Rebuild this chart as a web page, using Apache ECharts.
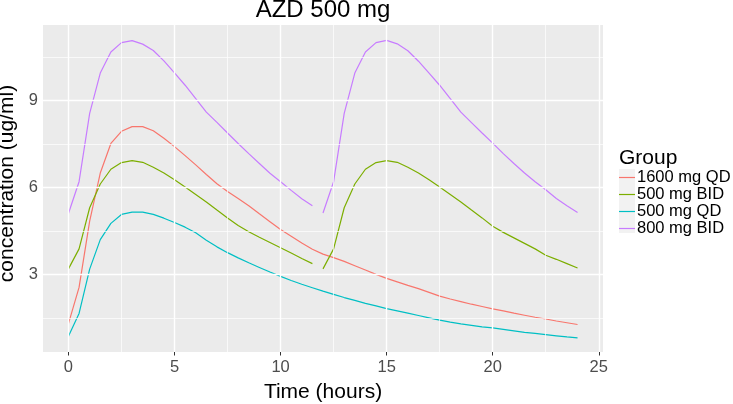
<!DOCTYPE html>
<html><head><meta charset="utf-8">
<script src="https://cdn.jsdelivr.net/npm/echarts@6/dist/echarts.min.js"></script>
<style>html,body{margin:0;padding:0;background:#fff}#c{width:733px;height:404px}</style>
</head><body><div id="c"></div>
<script>
// time grid (hours)
const hours = [0,0.5,1,1.5,2,2.5,3,3.5,4,4.5,5,5.5,6,6.5,7,7.5,8,8.5,9,9.5,10,10.5,11,11.5,
  12,12.5,13,13.5,14,14.5,15,15.5,16,16.5,17,17.5,18,18.5,19,19.5,20,20.5,21,21.5,22,22.5,23,23.5,24];
// concentrations (ug/ml)
const qd1600 = [1.3,2.55,4.84,6.5,7.52,7.94,8.1,8.1,7.96,7.7,7.41,7.1,6.78,6.45,6.13,5.86,5.62,5.37,5.09,4.82,4.55,4.32,4.08,3.87,
  3.7,3.58,3.45,3.3,3.15,3.0,2.86,2.74,2.62,2.51,2.38,2.25,2.15,2.06,1.97,1.89,1.81,1.74,1.66,1.59,1.52,1.46,1.39,1.33,1.27];
// BID: first dose 0..11.5 h, second dose 12..24 h
const bid500 = [3.19,3.88,5.3,6.12,6.63,6.86,6.93,6.87,6.7,6.5,6.27,6.02,5.76,5.5,5.22,4.95,4.69,4.47,4.28,4.1,3.92,3.74,3.55,3.37,
  3.19,3.88,5.3,6.12,6.63,6.86,6.93,6.87,6.7,6.5,6.27,6.02,5.76,5.5,5.22,4.95,4.66,4.45,4.26,4.07,3.88,3.66,3.52,3.37,3.22];
const qd500 = [0.86,1.65,3.18,4.2,4.76,5.07,5.15,5.15,5.07,4.94,4.79,4.63,4.44,4.18,3.95,3.75,3.57,3.4,3.24,3.08,2.93,2.79,2.66,2.54,
  2.42,2.31,2.2,2.1,2.0,1.91,1.82,1.74,1.66,1.58,1.5,1.42,1.35,1.29,1.24,1.19,1.15,1.1,1.05,1.0,0.96,0.92,0.88,0.84,0.81];
const bid800 = [5.1,6.2,8.56,9.95,10.68,11.0,11.07,10.95,10.73,10.37,9.96,9.53,9.07,8.6,8.25,7.88,7.52,7.17,6.83,6.49,6.2,5.9,5.61,5.37,
  5.12,6.2,8.56,9.95,10.68,11.0,11.08,10.96,10.72,10.36,9.95,9.53,9.07,8.6,8.24,7.88,7.53,7.17,6.83,6.5,6.2,5.92,5.62,5.37,5.14];
const secondDoseStart = 24; // index of t = 12 h

const groups = ['1600 mg QD','500 mg BID','500 mg QD','800 mg BID'];
const colors = ['#F8766D','#7CAE00','#00BFC4','#C77CFF'];
const xTicks = [0,5,10,15,20,25];
const yTicks = [3,6,9];
const xMinor = [2.5,7.5,12.5,17.5,22.5];
const yMinor = [1.5,4.5,7.5,10.5];

function pairs(vals, from, to) {
  return hours.slice(from, to).map((h, i) => [h, vals[from + i]]);
}
function lineSeries(name, color, data) {
  return {
    name, type: 'line', data, showSymbol: false, symbol: 'none', z: 3,
    color: color,
    lineStyle: { color, width: 1.2 }, itemStyle: { color },
    emphasis: { disabled: true }, animation: false
  };
}

const gridLines = [];
xMinor.forEach(v => gridLines.push({ xAxis: v, lineStyle: { width: 0.7 } }));
yMinor.forEach(v => gridLines.push({ yAxis: v, lineStyle: { width: 0.7 } }));
xTicks.forEach(v => gridLines.push({ xAxis: v, lineStyle: { width: 1.4 } }));
yTicks.forEach(v => gridLines.push({ yAxis: v, lineStyle: { width: 1.4 } }));

const series = [
  {
    name: 'grid', type: 'line', data: [], z: 1, silent: true, animation: false,
    markLine: { silent: true, symbol: 'none', animation: false, label: { show: false },
      lineStyle: { color: '#ffffff', type: 'solid' }, emphasis: { disabled: true }, data: gridLines }
  },
  lineSeries(groups[0], colors[0], pairs(qd1600, 0, hours.length)),
  lineSeries(groups[1], colors[1], pairs(bid500, 0, secondDoseStart)),
  lineSeries(groups[1], colors[1], pairs(bid500, secondDoseStart, hours.length)),
  lineSeries(groups[2], colors[2], pairs(qd500, 0, hours.length)),
  lineSeries(groups[3], colors[3], pairs(bid800, 0, secondDoseStart)),
  lineSeries(groups[3], colors[3], pairs(bid800, secondDoseStart, hours.length))
];

const font = 'Liberation Sans, Arial, sans-serif';
const chart = echarts.init(document.getElementById('c'), null, { renderer: 'canvas' });
chart.setOption({
  animation: false,
  backgroundColor: '#ffffff',
  title: [
    { text: 'AZD 500 mg', left: 323, top: -2, padding: 0, textAlign: 'center',
      textStyle: { fontFamily: font, fontSize: 24, fontWeight: 'normal', color: '#000' } },
    { text: 'Group', left: 619, top: 148, padding: 0,
      textStyle: { fontFamily: font, fontSize: 21, fontWeight: 'normal', color: '#000' } }
  ],
  graphic: [
    { type: 'rect', left: 619, top: 169, shape: { width: 16, height: 64 }, style: { fill: '#F2F2F2' }, z: 0 }
  ],
  legend: {
    data: groups.map((g, i) => ({ name: g, icon: 'rect',
      itemStyle: { color: colors[i], borderWidth: 0, borderColor: colors[i], opacity: 1 },
      inactiveColor: colors[i] })),
    orient: 'vertical', left: 619, top: 169, padding: 0,
    itemWidth: 16, itemHeight: 1.2, itemGap: 0, symbolKeepAspect: false,
    selectedMode: false,
    textStyle: { fontFamily: font, fontSize: 16.5, lineHeight: 16, color: '#000', padding: [0, 0, 0, -3] }
  },
  grid: { left: 43, right: 130, top: 25, bottom: 52, show: true, backgroundColor: '#EBEBEB', borderWidth: 0,
    outerBoundsMode: 'none', containLabel: false },
  xAxis: {
    type: 'value', min: -1.2, max: 25.2,
    name: 'Time (hours)', nameLocation: 'middle', nameGap: 30,
    nameTextStyle: { fontFamily: font, fontSize: 21, color: '#000' },
    axisLine: { show: false },
    axisTick: { show: true, customValues: xTicks, length: 3.5, lineStyle: { color: '#333333', width: 1 } },
    axisLabel: { customValues: xTicks, margin: 7, fontFamily: font, fontSize: 16.5, color: '#4D4D4D' },
    splitLine: { show: false }, minorSplitLine: { show: false }
  },
  yAxis: {
    type: 'value', min: 0.32, max: 11.61,
    name: 'concentration (ug/ml)', nameLocation: 'middle', nameGap: 21.5, nameRotate: 90,
    nameTextStyle: { fontFamily: font, fontSize: 21, color: '#000', padding: [0, 0, 0, 10] },
    axisLine: { show: false },
    axisTick: { show: true, customValues: yTicks, length: 3.5, lineStyle: { color: '#333333', width: 1 } },
    axisLabel: { customValues: yTicks, margin: 5, fontFamily: font, fontSize: 16.5, color: '#4D4D4D' },
    splitLine: { show: false }, minorSplitLine: { show: false }
  },
  series
});
</script></body></html>
